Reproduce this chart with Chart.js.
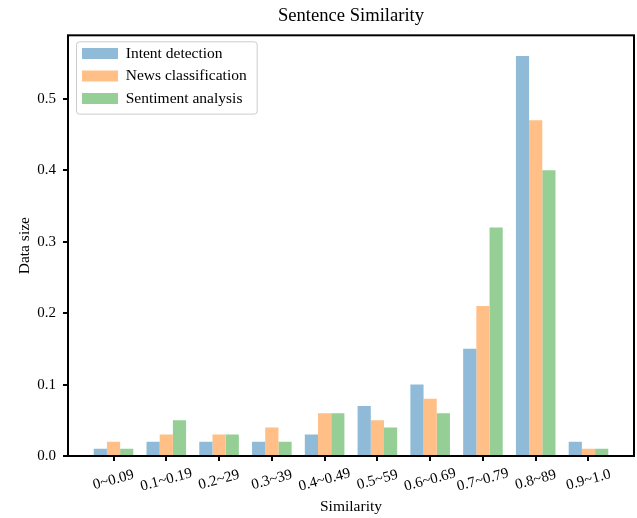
<!DOCTYPE html>
<html>
<head>
<meta charset="utf-8">
<script src="https://cdn.jsdelivr.net/npm/chart.js@4.4.0/dist/chart.umd.min.js"></script>
<style>
  html, body { margin: 0; padding: 0; background: #fff; }
</style>
</head>
<body>
<canvas id="chart" width="637" height="518"></canvas>
<script>
const categories = ['0~0.09', '0.1~0.19', '0.2~29', '0.3~39', '0.4~0.49', '0.5~59', '0.6~0.69', '0.7~0.79', '0.8~89', '0.9~1.0'];
const intentDetection = [0.01, 0.02, 0.02, 0.02, 0.03, 0.07, 0.10, 0.15, 0.56, 0.02];
const newsClassification = [0.02, 0.03, 0.03, 0.04, 0.06, 0.05, 0.08, 0.21, 0.47, 0.01];
const sentimentAnalysis = [0.01, 0.05, 0.03, 0.02, 0.06, 0.04, 0.06, 0.32, 0.40, 0.01];
const yTicks = [0, 0.1, 0.2, 0.3, 0.4, 0.5];

const FONT = 'Liberation Serif, Times New Roman, serif';

function toPoints(values) {
    return values.map((v, i) => ({ x: i, y: v }));
}

// matplotlib-like decorations: legend frame, full box, centred rotated x labels
const decorations = {
    id: 'decorations',
    afterLayout(chart) {
        const legend = chart.legend;
        const area = chart.chartArea;
        const dx = area.left + 7 - legend.left;
        const dy = area.top + 3.5 - legend.top;
        legend.left += dx; legend.right += dx;
        legend.top += dy; legend.bottom += dy;
    },
    beforeDraw(chart) {
        const ctx = chart.ctx;
        ctx.save();
        ctx.fillStyle = '#ffffff';
        ctx.fillRect(0, 0, chart.width, chart.height);

        const boxes = chart.legend.legendHitBoxes;
        if (boxes && boxes.length) {
            const first = boxes[0];
            const last = boxes[boxes.length - 1];
            const x0 = first.left - 6;
            const y0 = first.top - 4.5;
            const x1 = Math.max(...boxes.map(b => b.left + b.width)) + 10;
            const y1 = last.top + 22.8;
            ctx.beginPath();
            ctx.roundRect(x0 + 0.5, y0 + 0.5, x1 - x0, y1 - y0, 3);
            ctx.fillStyle = 'rgba(255,255,255,0.8)';
            ctx.fill();
            ctx.strokeStyle = '#cccccc';
            ctx.lineWidth = 1;
            ctx.stroke();
        }
        ctx.restore();
    },
    afterDraw(chart) {
        const ctx = chart.ctx;
        const area = chart.chartArea;
        const xScale = chart.scales.x;
        ctx.save();
        ctx.strokeStyle = '#000000';
        ctx.lineWidth = 2;
        ctx.strokeRect(area.left, area.top, area.right - area.left, area.bottom - area.top);

        ctx.fillStyle = '#000000';
        ctx.font = '15px ' + FONT;
        ctx.textAlign = 'center';
        ctx.textBaseline = 'middle';
        categories.forEach((label, i) => {
            const x = xScale.getPixelForValue(i);
            ctx.save();
            ctx.translate(x, area.bottom + 24);
            ctx.rotate(-15 * Math.PI / 180);
            ctx.fillText(label, 0, 0);
            ctx.restore();
        });
        ctx.restore();
    }
};

const ctx = document.getElementById('chart').getContext('2d');
new Chart(ctx, {
    type: 'bar',
    data: {
        datasets: [
            {
                label: 'Intent detection',
                data: toPoints(intentDetection),
                backgroundColor: '#8fbbd9',
                borderWidth: 0
            },
            {
                label: 'News classification',
                data: toPoints(newsClassification),
                backgroundColor: '#ffbf86',
                borderWidth: 0
            },
            {
                label: 'Sentiment analysis',
                data: toPoints(sentimentAnalysis),
                backgroundColor: '#95cf95',
                borderWidth: 0
            }
        ]
    },
    options: {
        responsive: false,
        animation: false,
        devicePixelRatio: 1,
        categoryPercentage: 0.75,
        barPercentage: 1.0,
        layout: { padding: { left: 0, right: 3, top: 0, bottom: 0 } },
        plugins: {
            title: {
                display: true,
                fullSize: false,
                text: 'Sentence Similarity',
                color: '#000000',
                font: { family: FONT, size: 18.6, weight: 'normal' },
                padding: { top: 5, bottom: 8 }
            },
            legend: {
                position: 'chartArea',
                align: 'start',
                labels: {
                    color: '#000000',
                    font: { family: FONT, size: 15.5 },
                    boxWidth: 36,
                    boxHeight: 11,
                    padding: 7
                }
            },
            tooltip: { enabled: false }
        },
        scales: {
            x: {
                type: 'linear',
                offset: false,
                min: -0.8625,
                max: 9.8625,
                afterBuildTicks: scale => {
                    scale.ticks = categories.map((c, i) => ({ value: i }));
                },
                afterFit: scale => { scale.height = 62; },
                ticks: { display: false },
                grid: {
                    offset: false,
                    drawOnChartArea: false,
                    drawTicks: true,
                    tickLength: 5,
                    color: '#000000',
                    lineWidth: 2
                },
                border: { display: false },
                title: {
                    display: true,
                    text: 'Similarity',
                    color: '#000000',
                    font: { family: FONT, size: 15.5 },
                    padding: { top: 0, bottom: 2 }
                }
            },
            y: {
                min: 0,
                max: 0.589,
                afterBuildTicks: scale => {
                    scale.ticks = yTicks.map(v => ({ value: v }));
                },
                afterFit: scale => { scale.width = 68; },
                ticks: {
                    color: '#000000',
                    font: { family: FONT, size: 15 },
                    padding: 7,
                    callback: v => v.toFixed(1)
                },
                grid: {
                    drawOnChartArea: false,
                    drawTicks: true,
                    tickLength: 5,
                    color: '#000000',
                    lineWidth: 2
                },
                border: { display: false },
                title: {
                    display: true,
                    text: 'Data size',
                    color: '#000000',
                    font: { family: FONT, size: 15.5 },
                    padding: { top: 16, bottom: 0 }
                }
            }
        }
    },
    plugins: [decorations]
});
</script>
</body>
</html>
